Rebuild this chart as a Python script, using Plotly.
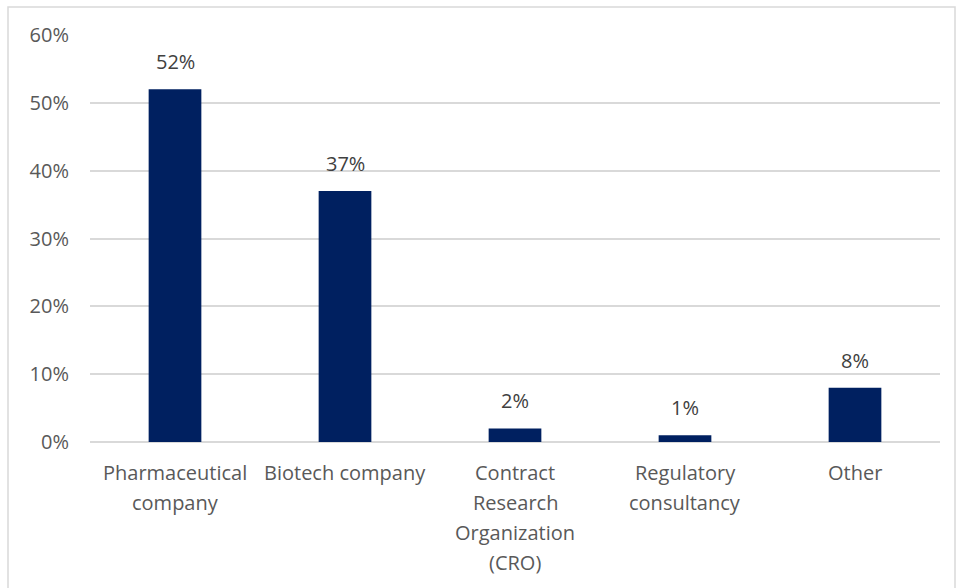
import plotly.graph_objects as go

# Survey responses by organisation type (share of respondents, %)
categories = ["Pharmaceutical company", "Biotech company",
              "Contract Research Organization (CRO)",
              "Regulatory consultancy", "Other"]
tick_lines = [["Pharmaceutical", "company"],
              ["Biotech company"],
              ["Contract", "Research", "Organization", "(CRO)"],
              ["Regulatory", "consultancy"],
              ["Other"]]
shares = [52, 37, 2, 1, 8]
y_ticks = [0, 10, 20, 30, 40, 50, 60]
y_tick_text = [f"{v}%" for v in y_ticks]

FONT = "Open Sans"
BAR_COLOR = "#002060"
GRID = "#d9d9d9"

fig = go.Figure()
fig.add_trace(go.Bar(
    x=categories,
    y=shares,
    marker=dict(color=BAR_COLOR, line=dict(width=0)),
    hoverinfo="skip",
))

annotations = []
# Value labels above each bar
for cat, v in zip(categories, shares):
    annotations.append(dict(
        x=cat, y=v, xref="x", yref="y",
        text=f"{v}%", showarrow=False,
        xanchor="center", yanchor="bottom", yshift=12,
        font=dict(family=FONT, size=20, color="#404040"),
    ))

# Multi-line category labels under the axis
for cat, lines in zip(categories, tick_lines):
    for i, line in enumerate(lines):
        annotations.append(dict(
            x=cat, y=0, xref="x", yref="y",
            text=line, showarrow=False,
            xanchor="center", yanchor="middle",
            yshift=-30 - 30 * i,
            font=dict(family=FONT, size=20, color="#595959"),
        ))

fig.update_layout(
    width=957, height=588,
    margin=dict(l=90, r=17, t=35, b=146),
    paper_bgcolor="white",
    plot_bgcolor="white",
    showlegend=False,
    bargap=0.69,
    annotations=annotations,
    shapes=[dict(type="rect", xref="paper", yref="paper",
                 x0=(8 - 90) / 850, x1=(955 - 90) / 850,
                 y0=-(600 - 442) / 407, y1=(442 - 7) / 407,
                 line=dict(color=GRID, width=1.5), layer="below")],
    xaxis=dict(showticklabels=False, showgrid=False, zeroline=False,
               showline=False, fixedrange=True),
    yaxis=dict(range=[0, 60], tickvals=y_ticks, ticktext=y_tick_text,
               showgrid=True, gridcolor=GRID, gridwidth=1.5,
               zeroline=True, zerolinecolor=GRID, zerolinewidth=1.5,
               showline=False, ticks="", ticklabelstandoff=20,
               tickfont=dict(family=FONT, size=20, color="#595959")),
)

fig.write_html("out.html")
